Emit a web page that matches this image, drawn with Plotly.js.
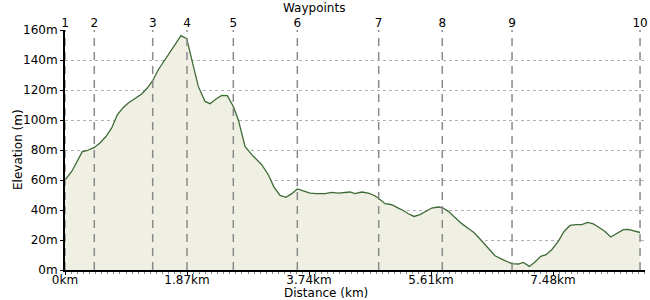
<!DOCTYPE html>
<html>
<head>
<meta charset="utf-8">
<script src="https://cdn.plot.ly/plotly-3.0.1.min.js"></script>
<style>html,body{margin:0;padding:0;background:#fff;}#chart{width:650px;height:300px;}</style>
</head>
<body>
<div id="chart"></div>
<script>
// Distance along route (km)
const distanceKm = [0, 0.103, 0.265, 0.333, 0.449, 0.536, 0.628, 0.716, 0.802, 0.894, 0.970, 1.073, 1.176, 1.261, 1.344, 1.430, 1.533, 1.660, 1.778, 1.865, 1.942, 2.043, 2.146, 2.223, 2.315, 2.402, 2.488, 2.580, 2.656, 2.759, 2.862, 3.015, 3.116, 3.204, 3.296, 3.387, 3.475, 3.561, 3.653, 3.755, 3.858, 3.985, 4.088, 4.189, 4.368, 4.445, 4.548, 4.649, 4.726, 4.802, 4.905, 5.008, 5.109, 5.186, 5.262, 5.350, 5.441, 5.544, 5.621, 5.722, 5.789, 5.875, 5.978, 6.081, 6.182, 6.258, 6.361, 6.514, 6.591, 6.694, 6.847, 6.948, 7.025, 7.117, 7.204, 7.292, 7.373, 7.460, 7.561, 7.649, 7.741, 7.833, 7.920, 8.012, 8.098, 8.175, 8.277, 8.365, 8.457, 8.558, 8.634, 8.711, 8.814];
// Elevation (m)
const elevationM = [60, 65.7, 78.9, 79.5, 81.7, 84.7, 89, 94.7, 103.5, 108.4, 111.3, 114.2, 117.3, 121.3, 126.2, 133.5, 140.2, 148, 156.2, 154.2, 141.3, 122.4, 112.4, 110.9, 114, 116.4, 116.2, 109, 100.2, 82.4, 76.9, 70.2, 63.5, 55.3, 49.7, 48.4, 50.9, 54, 52.7, 51.3, 50.9, 50.9, 51.7, 51.3, 52, 50.9, 52, 51.3, 50, 48, 44.2, 43.5, 41.3, 39.7, 37.5, 35.7, 36.9, 39.1, 41.3, 42, 41.5, 39.1, 34.7, 30.9, 27.7, 25.3, 20.7, 12.9, 9.5, 7.3, 4.2, 4, 5.1, 2.4, 5.3, 9.1, 10.2, 13.5, 19.1, 25.7, 29.7, 30.2, 30.2, 31.7, 30.7, 28.7, 25.7, 22, 24.2, 26.9, 27.1, 26.4, 25];
// Waypoints
const waypointKm = [0, 0.449, 1.344, 1.870, 2.580, 3.561, 4.808, 5.783, 6.852, 8.814];
const waypointLabels = ['1', '2', '3', '4', '5', '6', '7', '8', '9', '10'];
// Axis ticks
const xTickKm = [0, 1.87, 3.74, 5.61, 7.48];
const xTickLabels = ['0km', '1.87km', '3.74km', '5.61km', '7.48km'];
const yTickM = [0, 20, 40, 60, 80, 100, 120, 140, 160];
const yTickLabels = ['0m', '20m', '40m', '60m', '80m', '100m', '120m', '140m', '160m'];

const FONT = {family: 'DejaVu Sans, Verdana, sans-serif', size: 12, color: '#000'};
const X_MAX = 8.89;

const traces = [
  {
    x: distanceKm, y: elevationM, type: 'scatter', mode: 'lines',
    fill: 'tozeroy', fillcolor: '#f0efe4',
    line: {color: '#3d6b35', width: 1.3},
    hoverinfo: 'skip', showlegend: false
  },
  {
    x: waypointKm, y: waypointKm.map(() => null), xaxis: 'x2', yaxis: 'y',
    type: 'scatter', mode: 'markers', showlegend: false, hoverinfo: 'skip'
  }
];

const shapes = waypointKm.map(k => ({
  type: 'line', xref: 'x', yref: 'paper', x0: k, x1: k, y0: 0, y1: 1,
  line: {color: '#8a8a8a', width: 1.5, dash: '8px,6px'}, layer: 'above'
}));

const layout = {
  width: 650, height: 300,
  margin: {l: 65, r: 5, t: 30, b: 30, pad: 0},
  paper_bgcolor: '#fff', plot_bgcolor: '#fff',
  font: FONT,
  showlegend: false,
  xaxis: {
    range: [0, X_MAX], tickmode: 'array', tickvals: xTickKm, ticktext: xTickLabels,
    showgrid: false, zeroline: false, showline: true, linecolor: '#000', linewidth: 2,
    ticks: 'outside', ticklen: 3, tickcolor: '#000', tickwidth: 1,
    ticklabelstandoff: -5,
    minor: {dtick: 0.0935, tick0: 0, ticks: 'outside', ticklen: 2, tickcolor: '#888', showgrid: false},
    tickfont: FONT, fixedrange: true
  },
  xaxis2: {
    overlaying: 'x', side: 'top', range: [0, X_MAX], tickmode: 'array',
    tickvals: waypointKm, ticktext: waypointLabels, showgrid: false, zeroline: false,
    showline: false, ticks: '', tickfont: FONT, fixedrange: true
  },
  yaxis: {
    range: [0, 160], tickmode: 'array', tickvals: yTickM, ticktext: yTickLabels,
    showgrid: true, gridcolor: '#b0b0b0', griddash: 'dot', gridwidth: 1,
    zeroline: false, showline: true, linecolor: '#000', linewidth: 2,
    ticks: 'outside', ticklen: 3, tickcolor: '#000', tickfont: FONT, fixedrange: true
  },
  shapes: shapes,
  annotations: [
    {text: 'Waypoints', xref: 'paper', yref: 'paper', x: 0.43, y: 1 + 22/240, xanchor: 'center', yanchor: 'middle', showarrow: false, font: FONT},
    {text: 'Distance (km)', xref: 'paper', yref: 'paper', x: 0.45, y: -23/240, xanchor: 'center', yanchor: 'middle', showarrow: false, font: FONT},
    {text: 'Elevation (m)', xref: 'paper', yref: 'paper', x: -47/580, y: 0.5, xanchor: 'center', yanchor: 'middle', textangle: -90, showarrow: false, font: FONT}
  ]
};

Plotly.newPlot('chart', traces, layout, {displayModeBar: false, staticPlot: true});
</script>
</body>
</html>
